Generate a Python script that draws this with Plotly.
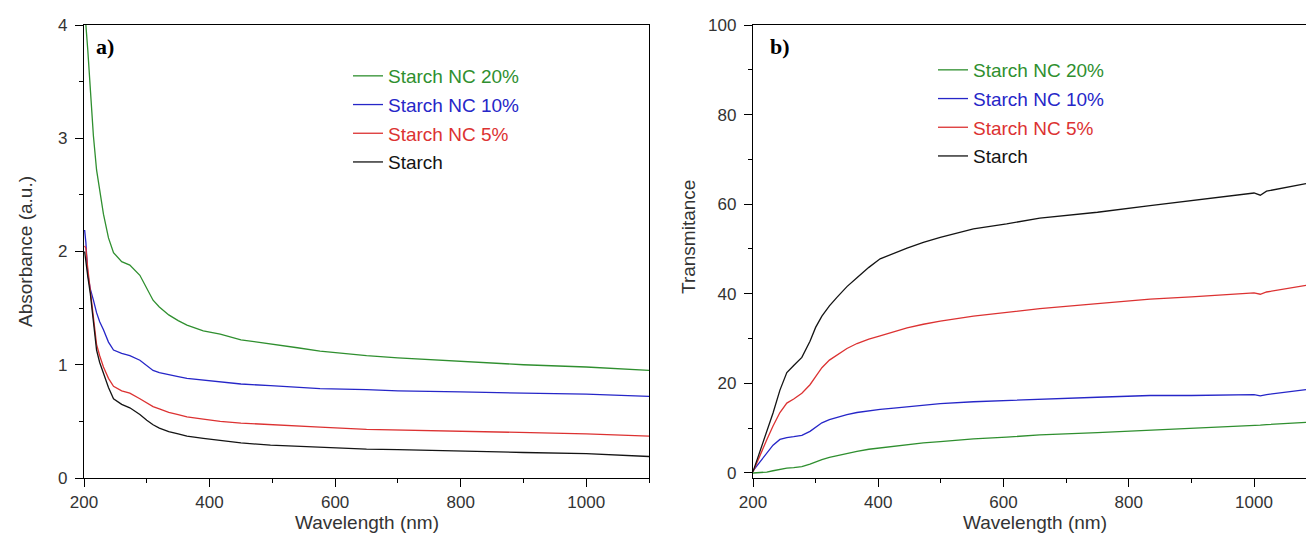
import plotly.graph_objects as go

# ---------------- data ----------------
series_names = ["Starch NC 20%", "Starch NC 10%", "Starch NC 5%", "Starch"]
series_colors = ["#2f8f2f", "#2626c8", "#dc3232", "#141414"]

# Panel a) absorbance
wl_abs = [201, 203, 206, 210, 215, 220, 225, 231, 239, 247, 260, 273, 289, 300, 310,
          320, 335, 350, 364, 390, 417, 450, 497, 540, 576, 650, 700, 800, 900, 1000, 1100]
abs_nc20 = [4.4, 4.0, 3.78, 3.42, 3.02, 2.72, 2.53, 2.33, 2.12, 1.99, 1.91, 1.88, 1.79, 1.68, 1.57,
            1.51, 1.44, 1.39, 1.35, 1.30, 1.27, 1.22, 1.18, 1.15, 1.12, 1.08, 1.06, 1.03, 1.00, 0.98, 0.95]
abs_nc10 = [2.19, 2.08, 1.80, 1.67, 1.57, 1.46, 1.38, 1.31, 1.20, 1.13, 1.10, 1.08, 1.04, 0.99, 0.95,
            0.93, 0.91, 0.895, 0.88, 0.865, 0.85, 0.83, 0.815, 0.80, 0.79, 0.78, 0.77, 0.76, 0.75, 0.74, 0.72]
abs_nc5 = [2.05, 2.03, 1.85, 1.65, 1.40, 1.18, 1.08, 0.98, 0.88, 0.81, 0.77, 0.75, 0.70, 0.66, 0.63,
           0.61, 0.58, 0.56, 0.54, 0.52, 0.50, 0.485, 0.47, 0.46, 0.45, 0.43, 0.425, 0.41, 0.40, 0.39, 0.37]
abs_starch = [2.0, 1.9, 1.78, 1.63, 1.35, 1.13, 1.02, 0.92, 0.80, 0.70, 0.65, 0.62, 0.56, 0.51, 0.47,
              0.44, 0.41, 0.39, 0.37, 0.35, 0.33, 0.31, 0.29, 0.28, 0.27, 0.255, 0.25, 0.235, 0.225, 0.215, 0.19]

# Panel b) transmittance
wl_tr = [200, 211, 222, 232, 243, 254, 265, 278, 291, 300, 310, 322, 334, 350, 366, 385,
         403, 425, 446, 472, 499, 552, 605, 658, 750, 834, 900, 1000, 1010, 1020, 1083]
tr_starch = [0.3, 4.8, 9.0, 13.4, 18.5, 22.4, 24.0, 25.8, 29.4, 32.5, 35.0, 37.3, 39.2, 41.6, 43.6, 45.9,
             47.8, 49.1, 50.2, 51.5, 52.6, 54.5, 55.6, 56.9, 58.2, 59.7, 60.8, 62.5, 62.0, 62.9, 64.6]
tr_nc5 = [0.3, 4.0, 7.4, 10.5, 13.5, 15.6, 16.5, 17.8, 19.7, 21.5, 23.5, 25.2, 26.4, 27.8, 28.9, 29.9,
          30.6, 31.5, 32.4, 33.2, 33.9, 35.0, 35.9, 36.7, 37.8, 38.8, 39.3, 40.2, 39.9, 40.4, 41.9]
tr_nc10 = [0.5, 2.5, 4.5, 6.2, 7.5, 7.9, 8.1, 8.4, 9.3, 10.3, 11.2, 11.9, 12.4, 13.0, 13.5, 13.9,
           14.2, 14.5, 14.8, 15.1, 15.5, 15.9, 16.2, 16.5, 16.9, 17.3, 17.3, 17.5, 17.2, 17.5, 18.6]
tr_nc20 = [0.0, 0.05, 0.2, 0.5, 0.8, 1.1, 1.2, 1.4, 2.0, 2.5, 3.0, 3.5, 3.9, 4.4, 4.8, 5.3,
           5.6, 6.0, 6.3, 6.7, 7.0, 7.6, 8.0, 8.5, 9.0, 9.5, 9.9, 10.6, 10.7, 10.8, 11.3]

# ---------------- figure ----------------
W, H = 1306, 547
fig = go.Figure()

abs_series = [abs_nc20, abs_nc10, abs_nc5, abs_starch]
tr_series = [tr_nc20, tr_nc10, tr_nc5, tr_starch]

for i, (name, col) in enumerate(zip(series_names, series_colors)):
    fig.add_trace(go.Scatter(
        x=wl_abs, y=abs_series[i], mode="lines",
        line=dict(color=col, width=1.3),
        name=f"<span style='color:{col}'>{name}</span>",
        legend="legend", legendgroup=f"a{i}",
        xaxis="x", yaxis="y"))
for i, (name, col) in enumerate(zip(series_names, series_colors)):
    fig.add_trace(go.Scatter(
        x=wl_tr, y=tr_series[i], mode="lines",
        line=dict(color=col, width=1.3),
        name=f"<span style='color:{col}'>{name}</span>",
        legend="legend2", legendgroup=f"b{i}",
        xaxis="x2", yaxis="y2"))

ydom = [(H - 478) / H, (H - 25) / H]
tickfont = dict(family="Liberation Sans, Arial, sans-serif", size=17, color="#333333")
axis_common = dict(showline=True, linecolor="black", linewidth=1.4, showgrid=False,
                   zeroline=False, ticks="outside", ticklen=8, tickwidth=1.3,
                   tickcolor="black", tickfont=tickfont, automargin=False)

fig.update_layout(
    template="none",
    width=W, height=H,
    margin=dict(l=0, r=0, t=0, b=0, autoexpand=False),
    paper_bgcolor="white", plot_bgcolor="white",
    font=dict(family="Liberation Sans, Arial, sans-serif", color="#333333"),
    xaxis=dict(domain=[84 / W, 649 / W], range=[200, 1100], tick0=200, dtick=200,
               mirror=True, anchor="y",
               minor=dict(dtick=100, tick0=200, ticklen=4, ticks="outside", tickcolor="black"),
               **axis_common),
    yaxis=dict(domain=ydom, range=[0, 4], tick0=0, dtick=1, mirror=True, anchor="x",
               ticklabelstandoff=4,
               minor=dict(dtick=0.5, tick0=0, ticklen=4, ticks="outside", tickcolor="black"),
               **axis_common),
    xaxis2=dict(domain=[753 / W, 1.0], range=[200, 1083], tick0=200, dtick=200,
                mirror=True, anchor="y2",
                minor=dict(dtick=100, tick0=200, ticklen=4, ticks="outside", tickcolor="black"),
                **axis_common),
    yaxis2=dict(domain=ydom, range=[-1.12, 100], tick0=0, dtick=20, anchor="x2",
                ticklabelstandoff=4,
                minor=dict(dtick=10, tick0=0, ticklen=4, ticks="outside", tickcolor="black"),
                **axis_common),
    legend=dict(x=348 / W, xanchor="left", y=1 - 57 / H, yanchor="top",
                bgcolor="rgba(0,0,0,0)", tracegroupgap=1, borderwidth=0,
                font=dict(family="Liberation Sans, Arial, sans-serif", size=19)),
    legend2=dict(x=933 / W, xanchor="left", y=1 - 51 / H, yanchor="top",
                 bgcolor="rgba(0,0,0,0)", tracegroupgap=1, borderwidth=0,
                 font=dict(family="Liberation Sans, Arial, sans-serif", size=19)),
    showlegend=True,
)

title_font = dict(family="Liberation Sans, Arial, sans-serif", size=19, color="#333333")
annotations = [
    dict(text="Absorbance (a.u.)", x=25 / W, y=1 - 252 / H, xref="paper", yref="paper",
         textangle=-90, showarrow=False, font=title_font, xanchor="center", yanchor="middle"),
    dict(text="Wavelength (nm)", x=367 / W, y=1 - 522 / H, xref="paper", yref="paper",
         showarrow=False, font=title_font, xanchor="center", yanchor="middle"),
    dict(text="Transmitance", x=688 / W, y=1 - 237 / H, xref="paper", yref="paper",
         textangle=-90, showarrow=False, font=title_font, xanchor="center", yanchor="middle"),
    dict(text="Wavelength (nm)", x=1035 / W, y=1 - 522 / H, xref="paper", yref="paper",
         showarrow=False, font=title_font, xanchor="center", yanchor="middle"),
    dict(text="<b>a)</b>", x=94 / W, y=1 - 46 / H, xref="paper", yref="paper",
         showarrow=False, xanchor="left", yanchor="middle",
         font=dict(family="Liberation Serif, Times New Roman, serif", size=22, color="black")),
    dict(text="<b>b)</b>", x=768 / W, y=1 - 46 / H, xref="paper", yref="paper",
         showarrow=False, xanchor="left", yanchor="middle",
         font=dict(family="Liberation Serif, Times New Roman, serif", size=22, color="black")),
]
fig.update_layout(annotations=annotations)

fig.write_html(
    "out.html",
    config={"displayModeBar": False},
    post_script="document.body.style.margin='0';document.body.style.padding='0';",
)
